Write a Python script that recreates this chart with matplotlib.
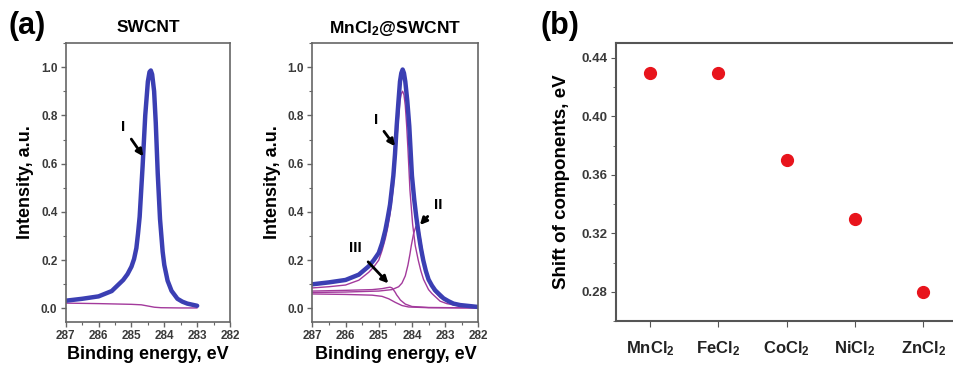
import matplotlib
matplotlib.use("Agg")
import matplotlib.pyplot as plt
from matplotlib.ticker import MultipleLocator

plt.rcParams['font.family'] = ['Liberation Sans', 'DejaVu Sans']
plt.rcParams['font.weight'] = 'bold'
plt.rcParams['axes.labelweight'] = 'bold'
plt.rcParams['mathtext.fontset'] = 'custom'
plt.rcParams['mathtext.rm'] = 'Liberation Sans:bold'
plt.rcParams['mathtext.default'] = 'rm'

# C1s spectrum of pristine SWCNT
e_sw = [287.0, 286.5, 286.0, 285.6, 285.25, 285.12, 285.0, 284.92, 284.85, 284.8,
        284.75, 284.66, 284.58, 284.5, 284.45, 284.41, 284.37, 284.31, 284.26, 284.2,
        284.13, 284.05, 284.0, 283.9, 283.78, 283.6, 283.45, 283.3, 283.0]
i_sw = [0.032, 0.040, 0.050, 0.072, 0.118, 0.142, 0.173, 0.205, 0.25, 0.31,
        0.38, 0.59, 0.80, 0.94, 0.98, 0.986, 0.97, 0.90, 0.77, 0.56,
        0.37, 0.235, 0.18, 0.115, 0.073, 0.040, 0.028, 0.020, 0.011]
e_sw_bg = [287.0, 286.0, 285.0, 284.7, 284.5, 284.3, 284.1, 283.5, 283.0]
i_sw_bg = [0.022, 0.020, 0.017, 0.015, 0.010, 0.005, 0.003, 0.002, 0.002]

# C1s spectrum of MnCl2@SWCNT: envelope, components I-III and background
e_mn = [287.0, 286.5, 286.0, 285.6, 285.3, 285.15, 285.0, 284.9, 284.8, 284.73,
        284.66, 284.61, 284.56, 284.51, 284.46, 284.41, 284.36, 284.32, 284.28, 284.24,
        284.2, 284.14, 284.08, 284.0, 283.93, 283.87, 283.8, 283.73, 283.66, 283.58,
        283.5, 283.4, 283.3, 283.15, 283.05, 282.9, 282.75, 282.55, 282.0]
i_mn = [0.100, 0.108, 0.118, 0.140, 0.175, 0.20, 0.23, 0.27, 0.325, 0.375,
        0.43, 0.49, 0.55, 0.64, 0.755, 0.85, 0.94, 0.975, 0.99, 0.975,
        0.94, 0.86, 0.755, 0.55, 0.45, 0.38, 0.31, 0.25, 0.20, 0.155,
        0.12, 0.095, 0.075, 0.055, 0.042, 0.030, 0.020, 0.014, 0.006]
e_c1 = [287.0, 286.5, 286.0, 285.6, 285.3, 285.15, 285.0, 284.9, 284.8, 284.73,
        284.66, 284.56, 284.46, 284.41, 284.36, 284.32, 284.28, 284.24, 284.2, 284.16,
        284.12, 284.06, 283.98, 283.9, 283.81, 283.73, 283.65, 283.5, 283.4, 283.15,
        282.95, 282.5, 282.0]
i_c1 = [0.085, 0.090, 0.097, 0.117, 0.15, 0.172, 0.20, 0.24, 0.29, 0.335,
        0.39, 0.50, 0.69, 0.78, 0.86, 0.89, 0.90, 0.885, 0.84, 0.76,
        0.66, 0.49, 0.35, 0.26, 0.20, 0.155, 0.12, 0.078, 0.062, 0.030,
        0.020, 0.008, 0.004]
e_c2 = [287.0, 286.0, 285.0, 284.6, 284.4, 284.3, 284.2, 284.12, 284.06, 284.02,
        283.95, 283.88, 283.83, 283.78, 283.7, 283.6, 283.5, 283.35, 283.15, 282.9,
        282.5, 282.0]
i_c2 = [0.066, 0.068, 0.072, 0.078, 0.090, 0.105, 0.135, 0.18, 0.225, 0.26,
        0.31, 0.34, 0.338, 0.32, 0.25, 0.17, 0.12, 0.075, 0.045, 0.028,
        0.014, 0.007]
e_c3 = [287.0, 286.0, 285.2, 284.9, 284.75, 284.66, 284.6, 284.56, 284.5, 284.46,
        284.4, 284.35, 284.2, 284.0, 283.5, 282.0]
i_c3 = [0.072, 0.075, 0.078, 0.082, 0.086, 0.088, 0.085, 0.078, 0.066, 0.056,
        0.045, 0.035, 0.018, 0.008, 0.004, 0.002]
e_bg = [287.0, 286.0, 285.2, 284.9, 284.7, 284.5, 284.3, 284.1, 283.5, 282.0]
i_bg = [0.060, 0.058, 0.055, 0.050, 0.040, 0.025, 0.012, 0.006, 0.003, 0.002]

# shift of components for the different fillers
salts = ['MnCl$_2$', 'FeCl$_2$', 'CoCl$_2$', 'NiCl$_2$', 'ZnCl$_2$']
shift = [0.43, 0.43, 0.37, 0.33, 0.28]

BLUE = '#3b3fb3'
MAG = '#a33a9c'
FRAME = '#666666'

fig = plt.figure(figsize=(9.54, 3.68), dpi=100)
ax1 = fig.add_axes([0.0689, 0.1258, 0.1722, 0.7574])
ax2 = fig.add_axes([0.3274, 0.1258, 0.1740, 0.7574])
ax3 = fig.add_axes([0.6457, 0.1277, 0.3579, 0.7546])


def style_xps(ax):
    ax.set_xlim(287, 282)
    ax.set_ylim(-0.055, 1.1)
    ax.xaxis.set_minor_locator(MultipleLocator(0.5))
    ax.yaxis.set_minor_locator(MultipleLocator(0.1))
    ax.set_xticks([287, 286, 285, 284, 283, 282])
    ax.set_xticklabels(['287', '286', '285', '284', '283', '282'])
    ax.set_yticks([0.0, 0.2, 0.4, 0.6, 0.8, 1.0])
    ax.set_yticklabels(['0.0', '0.2', '0.4', '0.6', '0.8', '1.0'])
    for s in ax.spines.values():
        s.set_color(FRAME)
        s.set_linewidth(1.2)
    ax.tick_params(which='both', direction='out', color=FRAME, labelsize=8.5,
                   labelcolor='#3a3a3a')
    ax.tick_params(which='major', length=3.5, width=1, pad=2.5)
    ax.tick_params(which='minor', length=2, width=0.8)
    ax.set_xlabel('Binding energy, eV', fontsize=13, labelpad=3)
    ax.set_ylabel('Intensity, a.u.', fontsize=13, labelpad=5)


line_kw = dict(solid_joinstyle='round', solid_capstyle='round')

style_xps(ax1)
ax1.plot(e_sw_bg, i_sw_bg, color=MAG, lw=1.0, **line_kw)
ax1.plot(e_sw, i_sw, color=BLUE, lw=3.2, **line_kw)

style_xps(ax2)
for e, i in [(e_bg, i_bg), (e_c3, i_c3), (e_c2, i_c2), (e_c1, i_c1)]:
    ax2.plot(e, i, color=MAG, lw=1.0, **line_kw)
ax2.plot(e_mn, i_mn, color=BLUE, lw=3.2, **line_kw)

arrow = dict(arrowstyle='-|>', color='black', lw=2.0, mutation_scale=10,
             shrinkA=4, shrinkB=0)
ax1.annotate('I', xy=(284.64, 0.63), xytext=(285.25, 0.75), fontsize=11,
             ha='center', va='center', arrowprops=arrow)
ax2.annotate('I', xy=(284.51, 0.672), xytext=(285.09, 0.78), fontsize=11,
             ha='center', va='center', arrowprops=arrow)
ax2.annotate('II', xy=(283.76, 0.346), xytext=(283.2, 0.43), fontsize=11,
             ha='center', va='center', arrowprops=arrow)
ax2.annotate('III', xy=(284.71, 0.104), xytext=(285.71, 0.25), fontsize=11,
             ha='center', va='center', arrowprops=arrow)

# panel (b)
pos = list(range(len(salts)))
ax3.plot(pos, shift, 'o', color='#e8141c', ms=8.5, mec='#e8141c')
ax3.set_xlim(-0.5, 4.5)
ax3.set_ylim(0.26, 0.45)
ax3.set_xticks(pos)
ax3.set_xticklabels(salts, fontsize=12)
ax3.set_yticks([0.28, 0.32, 0.36, 0.40, 0.44])
ax3.set_yticklabels(['0.28', '0.32', '0.36', '0.40', '0.44'])
ax3.yaxis.set_minor_locator(MultipleLocator(0.02))
for s in ax3.spines.values():
    s.set_color('#555555')
    s.set_linewidth(1.5)
ax3.tick_params(axis='y', which='both', direction='out', color='#555555',
                labelsize=9.5, labelcolor='#3a3a3a')
ax3.tick_params(axis='y', which='major', length=3.5, pad=2.5)
ax3.tick_params(axis='y', which='minor', length=2)
ax3.tick_params(axis='x', direction='out', color='#555555', length=4,
                pad=9, labelcolor='#222222')
ax3.set_ylabel('Shift of components, eV', fontsize=13.5, labelpad=8)

fig.text(148 / 954, 1 - 28 / 368, 'SWCNT', fontsize=12.5, ha='center', va='center')
fig.text(395 / 954, 1 - 28 / 368, 'MnCl$_2$@SWCNT', fontsize=12.5, ha='center', va='center')
fig.text(8 / 954, 1 - 26 / 368, '(a)', fontsize=22, ha='left', va='center')
fig.text(541 / 954, 1 - 26 / 368, '(b)', fontsize=22, ha='left', va='center')

fig.savefig('out.png', dpi=100)
